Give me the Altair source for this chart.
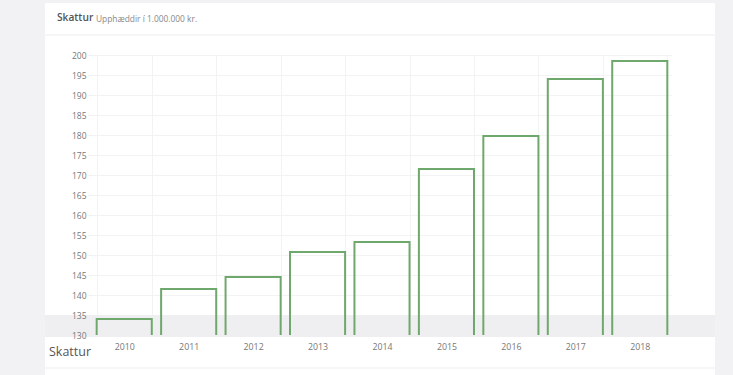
import altair as alt
import pandas as pd

years = ["2010", "2011", "2012", "2013", "2014", "2015", "2016", "2017", "2018"]
values = [134.0, 141.5, 144.5, 150.75, 153.25, 171.5, 179.75, 194.0, 198.5]

df = pd.DataFrame({"year": years, "value": values})
one = alt.Data(values=[{}])

FONT = "Open Sans"
W, H = 580, 280
PAGE = "#f2f2f5"

def rect(x, x2, y, y2, color):
    return alt.Chart(one).mark_rect(color=color, clip=False).encode(
        x=alt.value(x), x2=alt.value(x2), y=alt.value(y), y2=alt.value(y2))

def hline(x, x2, y, color):
    return alt.Chart(one).mark_rule(color=color, strokeWidth=1, clip=False).encode(
        x=alt.value(x), x2=alt.value(x2), y=alt.value(y))

def label(txt, x, y, size, color, weight="normal"):
    return alt.Chart(one).mark_text(text=txt, align="left", baseline="middle",
                                    font=FONT, fontSize=size, color=color,
                                    fontWeight=weight, clip=False).encode(
        x=alt.value(x), y=alt.value(y))

left_strip = rect(-92, -47, -55, 320, PAGE)
right_strip = rect(623, 641, -55, 320, PAGE)
top_strip = rect(-47, 623, -55, -52, PAGE)
band = rect(-47, 623, 260, 282, "#efeff1")
sep_top = hline(-47, 623, -20, "#ededed")
sep_bottom = hline(-47, 623, 313, "#ededed")
title = label("Skattur", -35, -37, 10.2, "#555555", 600)
subtitle = label("Upphæddir í 1.000.000 kr.", 4, -36, 8.4, "#888888")
lower_title = label("Skattur", -43, 297, 12.5, "#555555")

xenc = alt.X("year:N", sort=years,
             scale=alt.Scale(paddingInner=0.145, paddingOuter=0.0725),
             axis=alt.Axis(title=None, labelAngle=0, tickBand="extent", ticks=False,
                           domain=False, grid=True, gridColor="#f3f3f3",
                           labelFont=FONT, labelFontSize=8.8, labelColor="#777777",
                           labelPadding=7))
yscale = alt.Scale(domain=[130, 200], nice=False, zero=False)

bars = alt.Chart(df).mark_bar(
    fill="white", fillOpacity=0, stroke="#6fa86c", strokeWidth=2, clip=True
).encode(
    x=xenc,
    y=alt.Y("value:Q", scale=yscale,
            axis=alt.Axis(title=None, values=list(range(130, 201, 5)), ticks=True,
                          tickSize=4, tickColor="#eeeeee", labels=False,
                          domain=False, grid=True, gridColor="#f3f3f3",
                          orient="left", zindex=0)),
)

ylabels = alt.Chart(df).mark_point(opacity=0).encode(
    x=alt.X("year:N", sort=years),
    y=alt.Y("value:Q", scale=yscale,
            axis=alt.Axis(title=None, values=list(range(130, 201, 5)), ticks=False,
                          domain=False, grid=False, orient="left",
                          labelFont=FONT, labelFontSize=8.5, labelColor="#777777",
                          labelPadding=6, zindex=1)),
)

chart = alt.layer(
    left_strip, right_strip, top_strip, band, sep_top, sep_bottom,
    title, subtitle, lower_title, bars, ylabels
).resolve_axis(y="independent").properties(
    width=W, height=H,
    padding={"left": 92, "top": 55, "right": 61, "bottom": 40},
    autosize=alt.AutoSizeParams(type="none"),
    background="#ffffff",
).configure_view(stroke=None)

chart.save("out.html", embed_options={"renderer": "svg", "actions": False})
